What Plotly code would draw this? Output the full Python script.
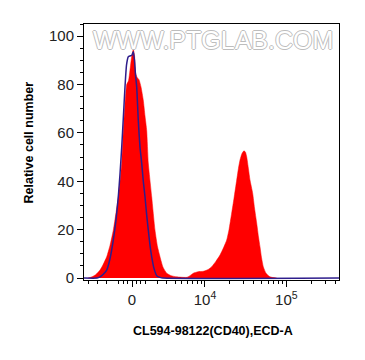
import numpy as np
import plotly.graph_objects as go

# Display-channel positions (biexponential display units, 0..255 across the axis)
sample_x = [4, 8, 12, 16, 19, 22.7, 26, 29.3, 32, 34.3, 36, 37.7, 39.3, 41, 42.7, 44.5, 46, 47.5,
            49.3, 50.5, 51.5, 53, 55, 57, 59.3, 61, 62.7, 64.3, 67.7, 71, 73.5, 76, 79, 82.7, 87,
            92.7, 102.7, 106, 109.3, 114, 119.3, 124, 127.7, 132, 136, 139.5, 142.7, 145, 147.7,
            150, 152.7, 154.5, 156, 158, 160, 161.5, 162.7, 164.5, 166, 168.7, 170.5, 172.7,
            174.5, 176, 177.5, 179.3, 182, 186, 192.7]
sample_y = [0, 0.5, 1.5, 3.3, 5.5, 8.8, 13.5, 19.8, 27, 33.6, 40, 47.5, 61, 72, 80, 81.5, 86, 91,
            94.5, 92, 85, 83, 82, 79, 73.5, 67, 61, 47.5, 33.6, 19.8, 13, 8.8, 4.5, 2, 1,
            0.5, 0.3, 1, 2, 2.6, 2.8, 3.5, 4.7, 7, 9.5, 12.5, 15.7, 20, 26.9,
            33, 40.5, 45.5, 48.8, 51.5, 52.6, 52, 50.1, 45, 40.5, 35, 29, 22.7,
            17, 12.9, 8.5, 4.7, 2, 0.5, 0]

control_x = [0, 13, 16, 19, 22.7, 26, 29.3, 32, 34.3, 36, 37.7, 39.3, 41, 42.5, 44.3, 46, 47.7,
             49.3, 50.5, 51.5, 52.7, 54.3, 56, 57.7, 59.3, 61, 62.7, 64.3, 66, 67.7, 70, 72.7,
             76, 79, 255]
control_y = [0, 0, 0.5, 1.5, 3.3, 8, 15.7, 24, 33.6, 43, 54, 66, 79, 88, 91.5, 91.8, 92,
             93.5, 90, 84, 79, 65, 54, 47.5, 40, 33.6, 26, 19.8, 13.5, 8.8, 4, 1,
             0.3, 0, 0]

y_ticks = [0, 20, 40, 60, 80, 100]
x_major_values = [0, 1e4, 1e5]
x_major_labels = ["0", "10<sup>4</sup>", "10<sup>5</sup>"]
x_minor_values = [-4000, -3000, -2000, -1000, -600, -300, 300, 600, 1000, 2000, 3000, 4000,
                  5000, 6000, 7000, 8000, 9000, 2e4, 3e4, 4e4, 5e4, 6e4, 7e4, 8e4, 9e4,
                  2e5, 3e5, 4e5]


def to_display(v):
    return 48 + 35.6 * np.arcsinh(np.asarray(v, dtype=float) / 2618.0)


font = "Liberation Sans, Arial, sans-serif"

fig = go.Figure()
fig.add_trace(go.Scatter(
    x=sample_x, y=sample_y, mode="lines", fill="tozeroy",
    fillcolor="#ff0000", line=dict(color="#ff0000", width=0.5, shape="spline", smoothing=0.5),
    hoverinfo="skip", showlegend=False))
fig.add_trace(go.Scatter(
    x=control_x, y=control_y, mode="lines",
    line=dict(color="#2e1d8c", width=1.5, shape="spline", smoothing=0.5),
    hoverinfo="skip", showlegend=False))

fig.update_layout(
    width=357, height=352,
    margin=dict(l=76, r=26, t=16, b=80),
    paper_bgcolor="white", plot_bgcolor="white",
    font=dict(family=font, size=15, color="#222222"),
    xaxis=dict(
        range=[0, 255], showgrid=False, zeroline=False,
        showline=True, linecolor="black", linewidth=1, mirror=True,
        tickmode="array", tickvals=list(to_display(x_major_values)), ticktext=x_major_labels,
        ticks="outside", ticklen=6, tickcolor="black", tickwidth=1,
        minor=dict(tickmode="array", tickvals=list(to_display(x_minor_values)),
                   ticks="outside", ticklen=3, tickcolor="black", tickwidth=1, showgrid=False),
        tickfont=dict(family=font, size=15, color="#222222"),
    ),
    yaxis=dict(
        range=[-0.8, 105], showgrid=False, zeroline=False,
        showline=True, linecolor="black", linewidth=1, mirror=True,
        tickmode="array", tickvals=y_ticks,
        ticks="outside", ticklen=6, tickcolor="black", tickwidth=1,
        minor=dict(dtick=5, tick0=0, ticks="outside", ticklen=3, tickcolor="black",
                   tickwidth=1, showgrid=False),
        tickfont=dict(family=font, size=15, color="#222222"),
    ),
    annotations=[
        dict(text="WWW.PTGLAB.COM", xref="paper", yref="paper", x=0.506, y=0.936,
             xanchor="center", yanchor="middle", showarrow=False,
             font=dict(family=font, size=25, color="#ffffff",
                       shadow="1px 0 0 #bdbdbd, -1px 0 0 #bdbdbd, 0 1px 0 #bdbdbd, 0 -1px 0 #bdbdbd")),
        dict(text="<b>CL594-98122(CD40),ECD-A</b>", xref="paper", yref="paper",
             x=0.506, y=-0.199, xanchor="center", yanchor="middle", showarrow=False,
             font=dict(family=font, size=12.5, color="black")),
        dict(text="<b>Relative cell number</b>", xref="paper", yref="paper",
             x=-0.216, y=0.537, xanchor="center", yanchor="middle", showarrow=False,
             textangle=-90,
             font=dict(family=font, size=12.5, color="black")),
    ],
)

fig.write_html("out.html")
